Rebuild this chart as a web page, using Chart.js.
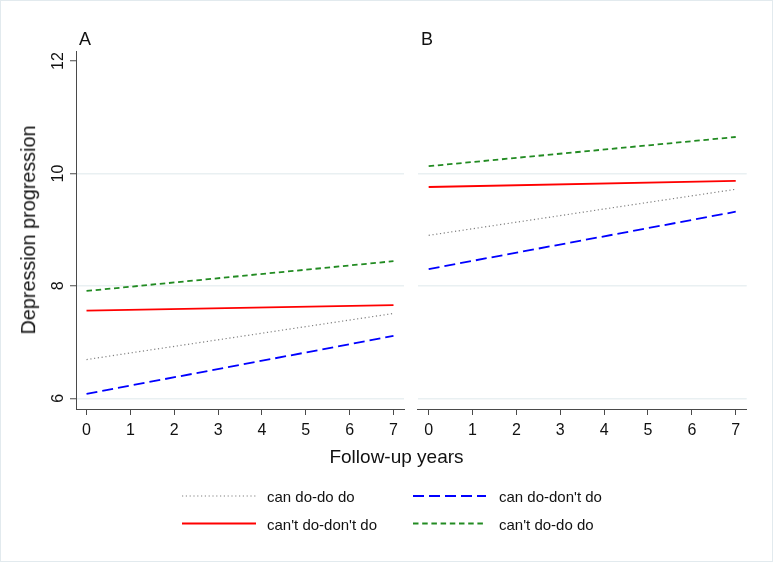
<!DOCTYPE html>
<html><head><meta charset="utf-8">
<script src="https://cdn.jsdelivr.net/npm/chart.js@4/dist/chart.umd.min.js"></script>
<style>
html,body{margin:0;padding:0;background:#fff;}
#wrap{position:relative;width:773px;height:562px;overflow:hidden;font-family:"Liberation Sans",Arial,sans-serif;color:#111;}
#frame{position:absolute;left:0;top:0;width:771px;height:560px;border:1px solid #e2eaee;pointer-events:none}
canvas{position:absolute;top:0;}
.t{position:absolute;white-space:nowrap;line-height:1;}
</style></head><body>
<div id="wrap">
<canvas id="cA" width="410" height="450" style="left:0"></canvas>
<canvas id="cB" width="363" height="450" style="left:410px"></canvas>
<div class="t" style="left:79px;top:29.5px;font-size:18px">A</div>
<div class="t" style="left:421px;top:29.5px;font-size:18px">B</div>
<div class="t" style="left:28.5px;top:230px;font-size:19.8px;transform:translate(-50%,-50%) rotate(-90deg)">Depression progression</div>
<div class="t" style="left:396.5px;top:446.5px;font-size:19px;transform:translateX(-50%)">Follow-up years</div>
<svg style="position:absolute;left:0;top:0" width="773" height="562">
  <line x1="182" y1="496" x2="256" y2="496" stroke="#808080" stroke-width="1.2" stroke-dasharray="1.2 2.6"/>
  <line x1="413" y1="496" x2="486" y2="496" stroke="#0000ff" stroke-width="1.8" stroke-dasharray="11 5"/>
  <line x1="182" y1="523.5" x2="256" y2="523.5" stroke="#ff0000" stroke-width="1.8"/>
  <line x1="413" y1="523.5" x2="486" y2="523.5" stroke="#228b22" stroke-width="1.8" stroke-dasharray="5.5 3.7"/>
</svg>
<div class="t" id="lt0" style="left:267px;top:489.3px;font-size:15px"></div>
<div class="t" id="lt1" style="left:499px;top:489.3px;font-size:15px"></div>
<div class="t" id="lt2" style="left:267px;top:517.3px;font-size:15px"></div>
<div class="t" id="lt3" style="left:499px;top:517.3px;font-size:15px"></div>
<div id="frame"></div>
</div>
<script>
// ---- data ----
const seriesNames = ["can do-do do", "can do-don't do", "can't do-don't do", "can't do-do do"];
const years = [0, 7];
const xTicks = [0, 1, 2, 3, 4, 5, 6, 7];
const yTicks = [6, 8, 10, 12];
// Panel A
const canDoDoDoA = [6.69, 7.51];
const canDoDontDoA = [6.08, 7.11];
const cantDoDontDoA = [7.56, 7.66];
const cantDoDoDoA = [7.91, 8.44];
// Panel B
const canDoDoDoB = [8.90, 9.72];
const canDoDontDoB = [8.30, 9.32];
const cantDoDontDoB = [9.76, 9.87];
const cantDoDoDoB = [10.13, 10.65];

// ---- styles ----
const FAMILY = '"Liberation Sans", Arial, sans-serif';
const AXIS = '#4a4a4a';
const GRID = '#e9f0f2';
const styles = [
  {borderColor:'#808080', borderWidth:1.2, borderDash:[1.2,2.6]},
  {borderColor:'#0000ff', borderWidth:1.8, borderDash:[11,5]},
  {borderColor:'#ff0000', borderWidth:1.8, borderDash:[]},
  {borderColor:'#228b22', borderWidth:1.8, borderDash:[5.5,3.7]}
];
seriesNames.forEach((n,i)=>{ document.getElementById('lt'+i).textContent = n; });

function makeDatasets(arrs){
  return arrs.map((vals,i)=>Object.assign({
    label: seriesNames[i],
    data: years.map((x,j)=>({x:x, y:vals[j]})),
    pointRadius:0, fill:false, tension:0
  }, styles[i]));
}

function makePanel(id, arrs, xMin, xMax, showY, padding){
  new Chart(document.getElementById(id), {
    type:'line',
    data:{datasets: makeDatasets(arrs)},
    options:{
      responsive:false, animation:false, devicePixelRatio:1,
      layout:{padding: padding},
      plugins:{legend:{display:false}, tooltip:{enabled:false}},
      scales:{
        x:{
          type:'linear', min:xMin, max:xMax,
          afterBuildTicks: s=>{ s.ticks = xTicks.map(v=>({value:v})); },
          afterFit: s=>{ s.height = 41; },
          border:{display:true, color:AXIS, width:1},
          grid:{drawOnChartArea:false, drawTicks:true, tickLength:6, color:AXIS},
          ticks:{font:{size:16, family:FAMILY}, color:'#111', padding:6, maxRotation:0, autoSkip:false}
        },
        y:{
          type:'linear', min:5.81, max:12.18,
          afterBuildTicks: s=>{ s.ticks = yTicks.map(v=>({value:v})); },
          afterFit: s=>{ s.width = showY ? 76 : 0; },
          border:{display:showY, color:AXIS, width:1},
          grid:{
            color: c => (c.tick && c.tick.value === 12) ? 'rgba(0,0,0,0)' : GRID,
            lineWidth:1.5, drawTicks:showY, tickLength:6, tickColor:AXIS, tickWidth:1
          },
          ticks:{display:showY, minRotation:90, maxRotation:90, crossAlign:'center', padding:3,
                 font:{size:16, family:FAMILY}, color:'#111'}
        }
      }
    }
  });
}

makePanel('cA', [canDoDoDoA, canDoDontDoA, cantDoDontDoA, cantDoDoDoA], -0.24, 7.24, true,
  {left:0, right:6, top:51, bottom:0});
makePanel('cB', [canDoDoDoB, canDoDontDoB, cantDoDontDoB, cantDoDoDoB], -0.25, 7.25, false,
  {left:7.7, right:26.3, top:51, bottom:0});
</script>
</body></html>
